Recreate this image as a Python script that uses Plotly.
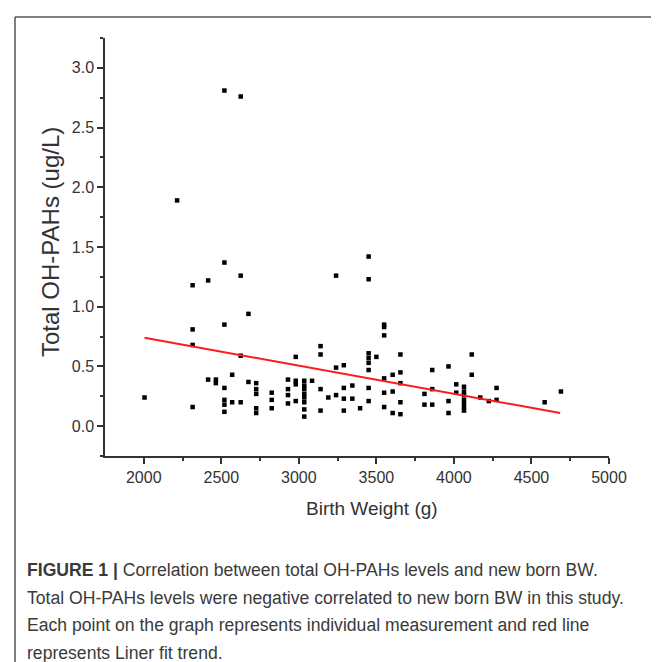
import plotly.graph_objects as go

# ---- data (x positions as they sit on the drawn axis) ----
birth_weight = [
    2005, 2215,
    2315, 2315, 2315, 2315,
    2415, 2415, 2465, 2465,
    2520, 2520, 2520, 2520, 2520, 2520, 2520,
    2570, 2570,
    2625, 2625, 2625, 2625,
    2675, 2675,
    2725, 2725, 2725, 2725, 2725,
    2825, 2825, 2825,
    2930, 2930, 2930, 2930,
    2980, 2980, 2980, 2980,
    3035, 3035, 3035, 3035, 3035, 3035, 3035, 3035,
    3085,
    3140, 3140, 3140, 3140,
    3190,
    3240, 3240, 3240,
    3290, 3290, 3290, 3290,
    3345, 3345,
    3395,
    3450, 3450, 3450, 3450, 3450, 3450, 3450, 3450,
    3500,
    3550, 3550, 3550, 3550, 3550, 3550,
    3605, 3605, 3605,
    3655, 3655, 3655, 3655, 3655,
    3810, 3810,
    3860, 3860, 3860,
    3965, 3965, 3965,
    4015, 4015,
    4065, 4065, 4065, 4065, 4065, 4065, 4065,
    4115, 4115,
    4170, 4225,
    4275, 4275,
    4585, 4690,
]
oh_pahs = [
    0.24, 1.89,
    1.18, 0.81, 0.68, 0.16,
    1.22, 0.39, 0.39, 0.36,
    2.81, 1.37, 0.85, 0.32, 0.22, 0.18, 0.12,
    0.43, 0.20,
    2.76, 1.26, 0.59, 0.20,
    0.94, 0.37,
    0.36, 0.31, 0.27, 0.15, 0.11,
    0.28, 0.22, 0.15,
    0.39, 0.31, 0.26, 0.19,
    0.58, 0.38, 0.35, 0.21,
    0.38, 0.34, 0.31, 0.27, 0.24, 0.20, 0.14, 0.08,
    0.38,
    0.67, 0.60, 0.31, 0.13,
    0.24,
    1.26, 0.49, 0.26,
    0.51, 0.32, 0.23, 0.13,
    0.34, 0.23,
    0.15,
    1.42, 1.23, 0.61, 0.57, 0.53, 0.47, 0.32, 0.21,
    0.58,
    0.85, 0.83, 0.76, 0.40, 0.28, 0.16,
    0.43, 0.29, 0.11,
    0.60, 0.45, 0.36, 0.20, 0.10,
    0.27, 0.18,
    0.47, 0.31, 0.18,
    0.50, 0.21, 0.11,
    0.35, 0.28,
    0.33, 0.29, 0.26, 0.22, 0.19, 0.16, 0.13,
    0.60, 0.43,
    0.24, 0.21,
    0.32, 0.22,
    0.20, 0.29,
]
fit_x = [2005, 4685]
fit_y = [0.74, 0.11]

x_ticks = [2000, 2500, 3000, 3500, 4000, 4500, 5000]
x_minor = [2250, 2750, 3250, 3750, 4250, 4750]
y_ticks = [0, 0.5, 1.0, 1.5, 2.0, 2.5, 3.0]
y_ticktext = ["0.0", "0.5", "1.0", "1.5", "2.0", "2.5", "3.0"]
y_minor = [-0.25, 0.25, 0.75, 1.25, 1.75, 2.25, 2.75, 3.25]

x_title = "Birth Weight (g)"
y_title = "Total OH-PAHs (ug/L)"
caption_lines = [
    "<b>FIGURE 1 |</b> Correlation between total OH-PAHs levels and new born BW.",
    "Total OH-PAHs levels were negative correlated to new born BW in this study.",
    "Each point on the graph represents individual measurement and red line",
    "represents Liner fit trend.",
]

# ---- layout geometry (pixels) ----
W, H = 659, 662
L, R, T, B = 97, 58, 30, 214
pw, ph = W - L - R, H - T - B

def px(xp):
    return (xp - L) / pw

def py(yp):
    return (H - B - yp) / ph

fig = go.Figure()
fig.add_trace(go.Scatter(
    x=birth_weight, y=oh_pahs, mode="markers",
    marker=dict(symbol="square", size=4.5, color="black", line=dict(width=0)),
    showlegend=False, hoverinfo="x+y",
))
fig.add_trace(go.Scatter(
    x=fit_x, y=fit_y, mode="lines",
    line=dict(color="#ff1a1a", width=2),
    showlegend=False,
))

FONT = "Liberation Sans, Arial, sans-serif"
axis_font = dict(family=FONT, size=16, color="#333333")

fig.update_xaxes(
    range=[1750, 5000], tickvals=x_ticks,
    ticks="outside", ticklen=6, tickwidth=1.5, tickcolor="#333",
    showline=True, linecolor="#333", linewidth=1.5,
    showgrid=False, zeroline=False, tickfont=axis_font,
    minor=dict(tickvals=x_minor, ticks="outside",
               ticklen=3, tickwidth=1.5, tickcolor="#333", showgrid=False),
)
fig.update_yaxes(
    range=[-0.25, 3.25], tickvals=y_ticks, ticktext=y_ticktext,
    ticks="outside", ticklen=6, tickwidth=1.5, tickcolor="#333",
    showline=True, linecolor="#333", linewidth=1.5,
    showgrid=False, zeroline=False, tickfont=axis_font,
    minor=dict(tickvals=y_minor, ticks="outside",
               ticklen=3, tickwidth=1.5, tickcolor="#333", showgrid=False),
)

annotations = [
    dict(text=x_title, x=px(364), y=py(500), xref="paper", yref="paper",
         xanchor="center", yanchor="middle", showarrow=False,
         font=dict(family=FONT, size=19, color="#333")),
    dict(text=y_title, x=px(42), y=py(234), xref="paper", yref="paper",
         xanchor="center", yanchor="middle", showarrow=False, textangle=-90,
         font=dict(family=FONT, size=24, color="#333")),
]
line_y = [562, 590, 617, 645]
for txt, yy in zip(caption_lines, line_y):
    annotations.append(dict(
        text=txt, x=px(17), y=py(yy), xref="paper", yref="paper",
        xanchor="left", yanchor="middle", showarrow=False, align="left",
        font=dict(family=FONT, size=17.6, color="#3a3a3a"),
    ))

shapes = [
    dict(type="line", xref="paper", yref="paper", x0=px(7), x1=px(W + 5),
         y0=py(9), y1=py(9), line=dict(color="#555", width=1.5)),
    dict(type="line", xref="paper", yref="paper", x0=px(7), x1=px(7),
         y0=py(9), y1=py(H + 5), line=dict(color="#555", width=1.5)),
]

fig.update_layout(
    width=W, height=H, margin=dict(l=L, r=R, t=T, b=B, autoexpand=False),
    paper_bgcolor="white", plot_bgcolor="white",
    annotations=annotations, shapes=shapes,
)

fig.write_html("out.html")
